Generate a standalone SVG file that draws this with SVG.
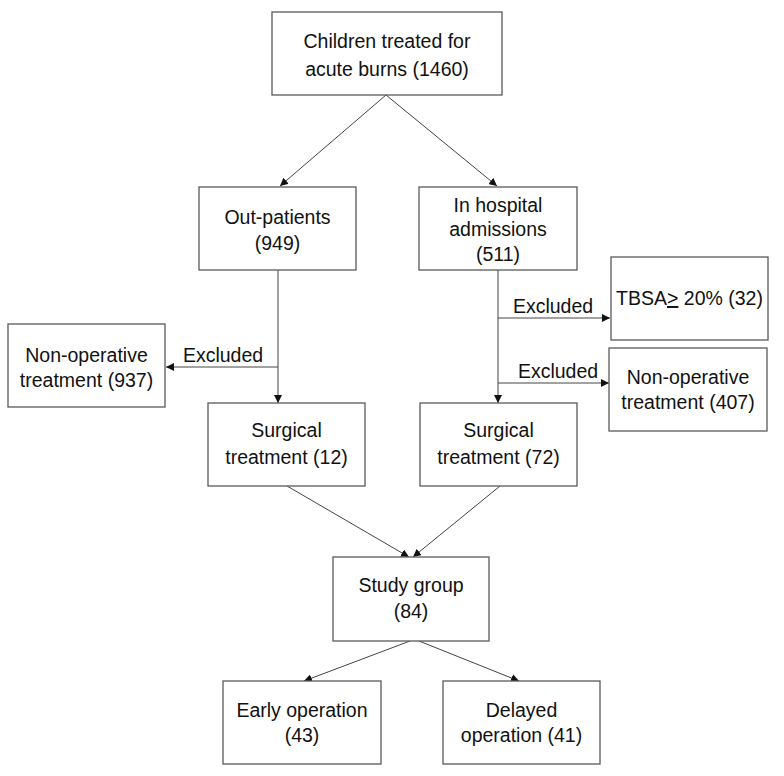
<svg xmlns="http://www.w3.org/2000/svg" width="784" height="776" viewBox="0 0 784 776">
<style>
.box{fill:#ffffff;stroke:#5a5a5a;stroke-width:1.3}
.t{font-family:"Liberation Sans",Arial,sans-serif;font-size:19.5px;fill:#111111;text-anchor:middle}
.c{fill:none;stroke:#444444;stroke-width:1}
</style>
<defs>
<marker id="ah" viewBox="0 0 10 10" refX="10" refY="5" markerWidth="8" markerHeight="8" markerUnits="userSpaceOnUse" orient="auto">
<path d="M0,0 L10,5 L0,10 Z" fill="#111111"/>
</marker>
</defs>
<rect width="784" height="776" fill="#ffffff"/>
<g id="connectors">
<line class="c" x1="386" y1="95" x2="280" y2="186" marker-end="url(#ah)"/>
<line class="c" x1="386" y1="95" x2="497" y2="186" marker-end="url(#ah)"/>
<line class="c" x1="278" y1="270" x2="278" y2="403" marker-end="url(#ah)"/>
<line class="c" x1="278" y1="367" x2="166" y2="367" marker-end="url(#ah)"/>
<line class="c" x1="498" y1="270" x2="498" y2="403" marker-end="url(#ah)"/>
<line class="c" x1="498" y1="318" x2="610" y2="318" marker-end="url(#ah)"/>
<line class="c" x1="498" y1="383" x2="609" y2="383" marker-end="url(#ah)"/>
<line class="c" x1="287" y1="486" x2="409" y2="557" marker-end="url(#ah)"/>
<line class="c" x1="500" y1="486" x2="413" y2="557" marker-end="url(#ah)"/>
<line class="c" x1="410" y1="641" x2="304" y2="681" marker-end="url(#ah)"/>
<line class="c" x1="419" y1="641" x2="519" y2="681" marker-end="url(#ah)"/>
<text class="t" x="223" y="362">Excluded</text>
<text class="t" x="553" y="313">Excluded</text>
<text class="t" x="558" y="378">Excluded</text>
</g>
<g id="top">
<rect class="box" x="272" y="12" width="230" height="83"/>
<text class="t" x="387" y="48">Children treated for</text>
<text class="t" x="387" y="76">acute burns (1460)</text>
</g>
<g id="outpatients">
<rect class="box" x="199" y="187" width="157" height="83"/>
<text class="t" x="277.5" y="224">Out-patients</text>
<text class="t" x="277.5" y="250">(949)</text>
</g>
<g id="inhospital">
<rect class="box" x="419" y="187" width="158" height="83"/>
<text class="t" x="498" y="212">In hospital</text>
<text class="t" x="498" y="236">admissions</text>
<text class="t" x="498" y="261">(511)</text>
</g>
<g id="nonop937">
<rect class="box" x="8" y="324" width="157" height="83"/>
<text class="t" x="86.5" y="362">Non-operative</text>
<text class="t" x="86.5" y="387">treatment (937)</text>
</g>
<g id="tbsa">
<rect class="box" x="611" y="257" width="157" height="83"/>
<text class="t" x="689.5" y="305">TBSA<tspan text-decoration="underline">&gt;</tspan> 20% (32)</text>
</g>
<g id="nonop407">
<rect class="box" x="609" y="348" width="158" height="83"/>
<text class="t" x="688" y="384">Non-operative</text>
<text class="t" x="688" y="409">treatment (407)</text>
</g>
<g id="surg12">
<rect class="box" x="208" y="403" width="157" height="83"/>
<text class="t" x="286.5" y="437">Surgical</text>
<text class="t" x="286.5" y="464">treatment (12)</text>
</g>
<g id="surg72">
<rect class="box" x="420" y="403" width="157" height="83"/>
<text class="t" x="498.5" y="437">Surgical</text>
<text class="t" x="498.5" y="464">treatment (72)</text>
</g>
<g id="study">
<rect class="box" x="333" y="557" width="156" height="84"/>
<text class="t" x="411" y="592">Study group</text>
<text class="t" x="411" y="618">(84)</text>
</g>
<g id="early">
<rect class="box" x="223" y="681" width="158" height="83"/>
<text class="t" x="302" y="717">Early operation</text>
<text class="t" x="302" y="742">(43)</text>
</g>
<g id="delayed">
<rect class="box" x="443" y="681" width="157" height="83"/>
<text class="t" x="521.5" y="717">Delayed</text>
<text class="t" x="521.5" y="742">operation (41)</text>
</g>
</svg>
